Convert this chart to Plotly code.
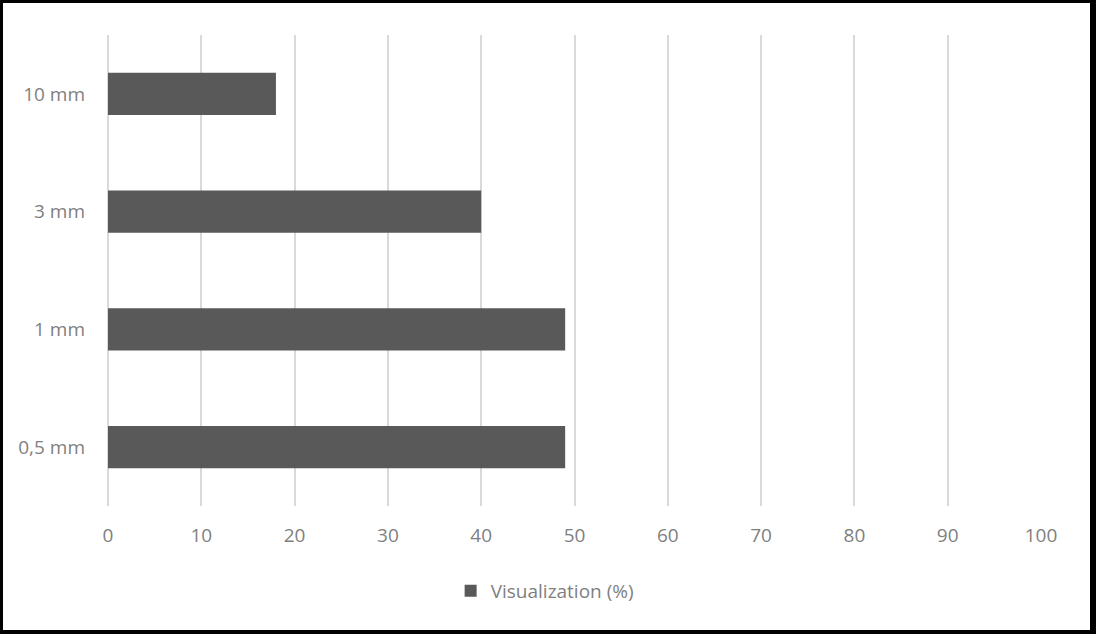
import plotly.graph_objects as go

categories = ["0,5 mm", "1 mm", "3 mm", "10 mm"]
values = [49, 49, 40, 18]
series_name = "Visualization (%)"
x_ticks = [0, 10, 20, 30, 40, 50, 60, 70, 80, 90, 100]

W, H = 1096, 634
L, R, T, B = 108, 55, 35, 128
pw, ph = W - L - R, H - T - B

def px(x):
    return (x - L) / pw

def py(y):
    return (H - B - y) / ph

fig = go.Figure()
fig.add_trace(go.Bar(
    y=categories, x=values, orientation="h", name=series_name,
    marker=dict(color="#595959", line=dict(width=0)),
    showlegend=True,
))

strips = [
    (0, 0, W, 3),        # top
    (0, H - 4, W, H),    # bottom
    (0, 0, 3, H),        # left
    (W - 6, 0, W, H),    # right
]
shapes = []
for x0, y0, x1, y1 in strips:
    shapes.append(dict(type="rect", xref="paper", yref="paper",
                       x0=px(x0), x1=px(x1), y0=py(y1), y1=py(y0),
                       fillcolor="black", line=dict(width=0), layer="above"))

fig.update_layout(
    width=W, height=H,
    margin=dict(l=L, r=R, t=T, b=B),
    paper_bgcolor="white", plot_bgcolor="white",
    font=dict(family="Open Sans", color="#7f7f7f", size=19),
    bargap=0.64,
    showlegend=True,
    legend=dict(orientation="h", x=0.468, xanchor="center", y=py(591), yanchor="middle",
                font=dict(size=19, color="#7f7f7f"), itemwidth=30),
    shapes=shapes,
    xaxis=dict(range=[0, 100], tickvals=x_ticks, showgrid=True, gridcolor="#d9d9d9",
               gridwidth=2, zeroline=True, zerolinecolor="#d9d9d9", zerolinewidth=2,
               showline=False, ticks="",
               ticklabelstandoff=16, tickfont=dict(size=19, color="#7f7f7f")),
    yaxis=dict(categoryorder="array", categoryarray=categories, showgrid=False,
               zeroline=False, showline=False, ticks="", ticklabelstandoff=22,
               tickfont=dict(size=19, color="#7f7f7f")),
)

fig.write_html("out.html", config={"displayModeBar": False},
               post_script="document.body.style.margin='0';")
